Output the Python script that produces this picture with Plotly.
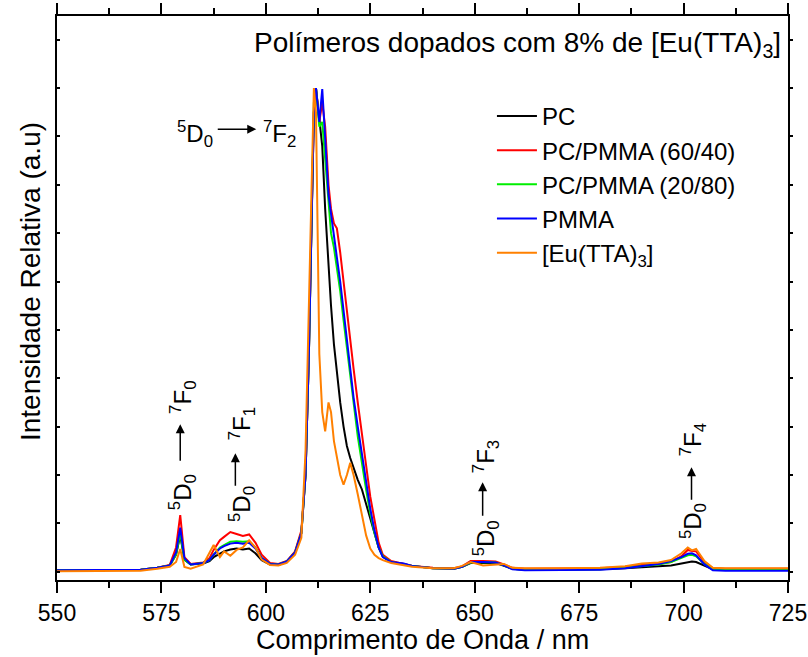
import plotly.graph_objects as go

wavelength = [550, 560, 570, 574, 577, 578.5, 579.5, 580.5, 582, 585, 586.5, 587.5, 589, 590, 591.5, 593,
              594.5, 596, 597.5, 599, 601, 603, 605, 607, 608.5, 609.5, 610.3, 611, 611.5, 612, 612.8,
              613.5, 614.2, 615, 615.6, 616.3, 617, 617.8, 618.6, 619.4, 620.2, 621, 622, 623, 624, 625,
              626, 627, 628, 630, 633, 635, 640, 645, 647, 649, 652, 655, 657, 659, 662, 670, 680, 686,
              690, 694, 697, 699.5, 701, 702, 703, 705, 707, 710, 725]

pc = [.003, .003, .004, .008, .013, .035, .075, .025, .015, .017, .022, .030, .038, .042, .046, .048,
      .046, .048, .038, .024, .015, .014, .020, .040, .080, .20, .45, .75, .95, 1.0, .93,
      .88, .75, .62, .55, .47, .41, .35, .30, .26, .235, .215, .19, .17, .14, .11,
      .075, .05, .031, .020, .016, .012, .007, .006, .010, .018, .018, .018, .012, .006, .004, .004, .005, .007,
      .009, .010, .013, .017, .020, .021, .020, .012, .005, .004, .004]

pc_pmma_60_40 = [.003, .003, .004, .008, .014, .050, .117, .030, .016, .019, .028, .045, .065, .072, .082, .078,
                 .074, .077, .060, .035, .018, .016, .022, .042, .085, .20, .45, .75, .95, 1.0, .93,
                 .97, .92, .80, .75, .72, .71, .66, .60, .53, .47, .42, .35, .29, .22, .155,
                 .11, .06, .035, .022, .016, .012, .008, .007, .011, .022, .022, .021, .015, .008, .006, .006, .007, .010,
                 .014, .016, .020, .032, .045, .043, .042, .020, .007, .006, .006]

pc_pmma_20_80 = [.003, .003, .004, .008, .013, .035, .080, .025, .015, .018, .024, .035, .050, .055, .062, .063,
                 .062, .063, .050, .028, .016, .015, .021, .040, .080, .20, .45, .75, .97, 1.0, .92,
                 .93, .85, .75, .70, .67, .63, .58, .52, .46, .40, .35, .28, .22, .17, .12,
                 .08, .05, .032, .020, .016, .012, .007, .006, .010, .019, .020, .019, .013, .006, .004, .004, .005, .008,
                 .012, .015, .020, .028, .034, .035, .032, .016, .005, .004, .004]

pmma = [.003, .003, .004, .008, .013, .040, .091, .028, .015, .018, .024, .035, .048, .053, .058, .060,
        .058, .060, .048, .028, .016, .015, .021, .040, .080, .20, .45, .75, .95, 1.0, .93,
        .998, .90, .78, .74, .70, .65, .60, .54, .48, .42, .36, .30, .24, .19, .13,
        .085, .05, .030, .020, .017, .012, .007, .006, .010, .020, .020, .019, .013, .005, .003, .003, .004, .007,
        .012, .016, .022, .030, .037, .038, .034, .015, .003, .002, .002]

eu_tta3 = [.001, .001, .002, .006, .010, .020, .047, .010, .006, .015, .040, .055, .030, .042, .033, .045,
           .050, .065, .050, .025, .014, .013, .018, .035, .070, .25, .55, .85, 1.0, .95, .45,
           .33, .29, .35, .33, .27, .24, .20, .18, .20, .225, .20, .16, .12, .075, .048,
           .035, .028, .024, .018, .013, .010, .007, .007, .012, .020, .013, .015, .016, .008, .007, .007, .008, .011,
           .017, .019, .024, .038, .050, .044, .047, .022, .008, .007, .007]

series = [
    ("PC", pc, "#000000"),
    ("PC/PMMA (60/40)", pc_pmma_60_40, "#ff0000"),
    ("PC/PMMA (20/80)", pc_pmma_20_80, "#00ee00"),
    ("PMMA", pmma, "#0000ff"),
    ("[Eu(TTA)<sub>3</sub>]", eu_tta3, "#ff8000"),
]

FONT = "Liberation Sans, Arial, sans-serif"
fig = go.Figure()
for i, (name, vals, col) in enumerate(series):
    fig.add_trace(go.Scatter(x=wavelength, y=vals, mode="lines", name=name,
                             legendgroup="g%d" % i,
                             line=dict(color=col, width=2)))

# invisible trace to draw the right-side axis
fig.add_trace(go.Scatter(x=wavelength, y=pc, yaxis="y2", mode="lines", opacity=0,
                         showlegend=False, hoverinfo="skip"))

yr = [-0.0172, 1.149]
fig.update_layout(
    width=808, height=657,
    margin=dict(l=57, r=20, t=16, b=77, autoexpand=False),
    paper_bgcolor="white", plot_bgcolor="white",
    font=dict(family=FONT, color="black", size=20),
    showlegend=True,
    legend=dict(x=0.595, y=0.862, xanchor="left", yanchor="top",
                bgcolor="rgba(0,0,0,0)", font=dict(size=24), tracegroupgap=0,
                itemwidth=40),
    xaxis=dict(range=[550, 725], tickmode="linear", tick0=550, dtick=25,
               ticks="outside", ticklen=11, tickwidth=2, tickcolor="black",
               showline=True, linewidth=2, linecolor="black", mirror="ticks",
               showgrid=False, zeroline=False, automargin=False,
               tickfont=dict(size=23),
               minor=dict(dtick=12.5, ticks="outside", ticklen=6, tickwidth=2, tickcolor="black")),
    yaxis=dict(range=yr, tickmode="linear", tick0=0, dtick=0.1,
               ticks="inside", ticklen=3, tickwidth=2, tickcolor="black",
               showticklabels=False, showline=True, linewidth=2, linecolor="black",
               showgrid=False, zeroline=False, automargin=False),
    yaxis2=dict(range=yr, overlaying="y", side="right", tickmode="linear", tick0=0, dtick=0.1,
                ticks="outside", ticklen=3, tickwidth=2, tickcolor="black",
                showticklabels=False, showline=True, linewidth=2, linecolor="black",
                showgrid=False, zeroline=False, automargin=False),
)

ann = []
ann.append(dict(text="Comprimento de Onda / nm", xref="paper", yref="paper",
                x=0.5, y=-0.107, xanchor="center", yanchor="middle",
                showarrow=False, font=dict(size=27)))
ann.append(dict(text="Intensidade Relativa (a.u)", xref="paper", yref="paper",
                x=-0.037, y=0.53, xanchor="center", yanchor="middle", textangle=-90,
                showarrow=False, font=dict(size=28)))
ann.append(dict(text="Polímeros dopados com 8% de [Eu(TTA)<sub>3</sub>]", xref="paper", yref="paper",
                x=0.993, y=0.95, xanchor="right", yanchor="middle", showarrow=False,
                font=dict(size=28)))

LF = 24
def label(text, x, y, angle=0):
    ann.append(dict(text=text, x=x, y=y, xref="x", yref="y", showarrow=False,
                    textangle=angle, font=dict(size=LF), xanchor="center", yanchor="middle"))

def arrow(x, y, ax, ay):
    ann.append(dict(text="", x=x, y=y, xref="x", yref="y", ax=ax, ay=ay, showarrow=True,
                    arrowhead=2, arrowsize=1.2, arrowwidth=1.5, arrowcolor="black"))

# 5D0 -> 7F2 (horizontal)
label("<sup>5</sup>D<sub>0</sub>", 583.0, 0.905)
arrow(597.7, 0.915, -40, 0)
label("<sup>7</sup>F<sub>2</sub>", 603.2, 0.905)

# vertical transitions
trans = [("0", 580.0, 0.165, 579.5, 0.305, 38, 0.36),
         ("1", 594.3, 0.140, 592.7, 0.245, 34, 0.305),
         ("3", 652.6, 0.068, 651.9, 0.185, 35, 0.238),
         ("4", 702.3, 0.105, 701.9, 0.216, 34, 0.272)]
for j, xd, yd, xa, ya, alen, yf in trans:
    label("<sup>5</sup>D<sub>0</sub>", xd, yd, -90)
    arrow(xa, ya, 0, alen)
    label("<sup>7</sup>F<sub>%s</sub>" % j, xd, yf, -90)

fig.update_layout(annotations=ann)
fig.write_html("out.html")
